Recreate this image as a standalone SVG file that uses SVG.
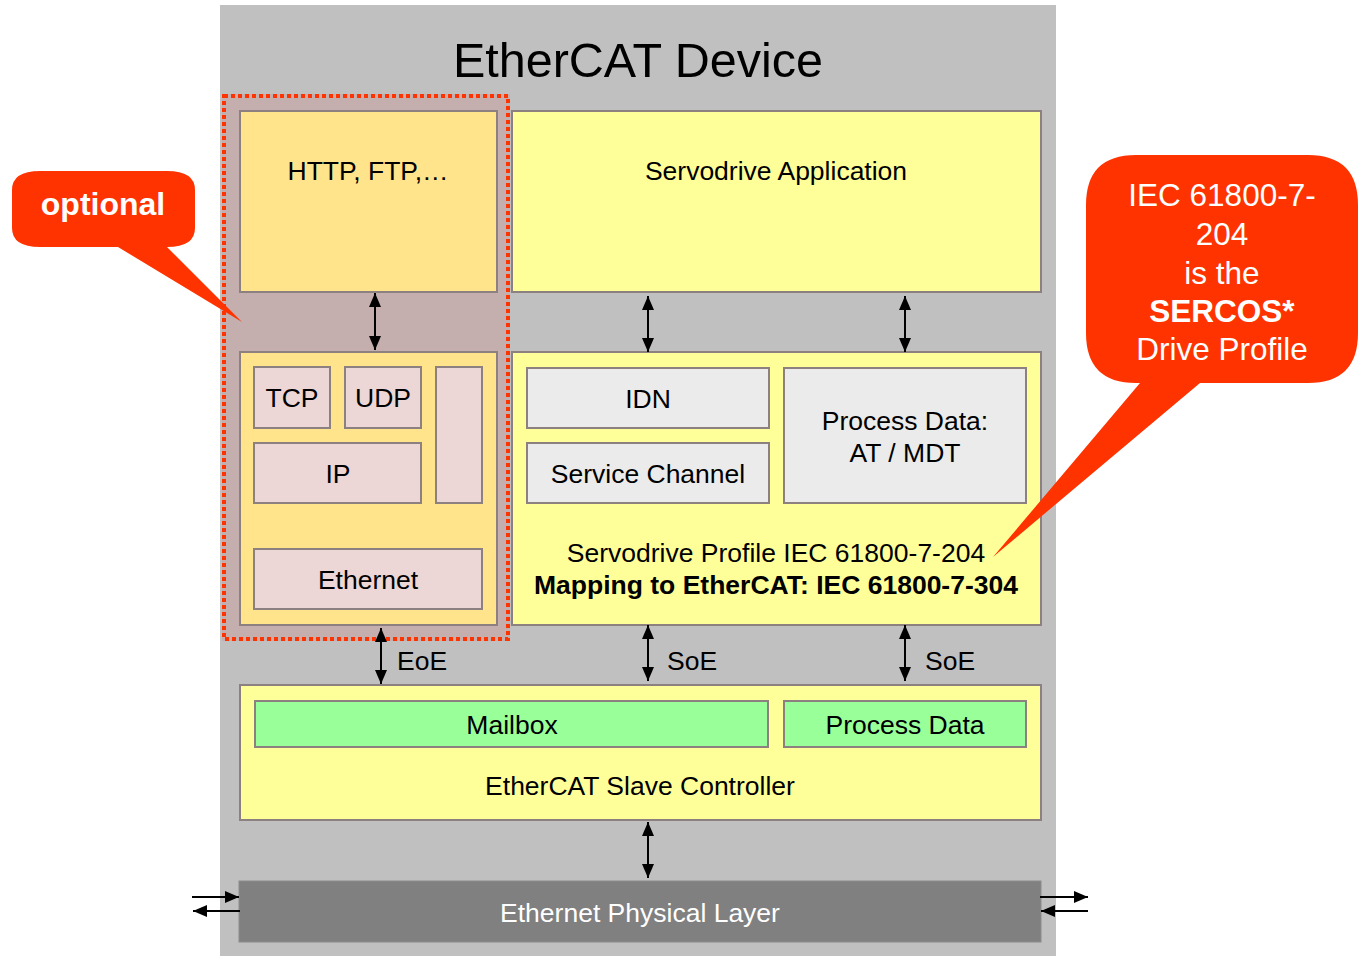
<svg xmlns="http://www.w3.org/2000/svg" width="1358" height="956" viewBox="0 0 1358 956">
<style>
text{font-family:"Liberation Sans",Arial,sans-serif;fill:#000}
.box{stroke:#8c8080;stroke-width:2}
.y{fill:#ffff99}
.o{fill:#ffe48c}
.p{fill:#ecd6d6}
.g{fill:#ebebeb}
.gr{fill:#99ff99}
.t24{font-size:26.5px;text-anchor:middle}
.con line{stroke:#000;stroke-width:2;marker-start:url(#ah);marker-end:url(#ah)}
.one line{stroke:#000;stroke-width:2;marker-end:url(#ah)}
.call{fill:#ff3300}
.wt{fill:#fff;text-anchor:middle}
</style>
<defs>
<marker id="ah" viewBox="0 0 14 12" refX="14" refY="6" markerWidth="14" markerHeight="12" markerUnits="userSpaceOnUse" orient="auto-start-reverse">
<path d="M0,0 L14,6 L0,12 z" fill="#000"/>
</marker>
</defs>
<rect width="1358" height="956" fill="#fff"/>
<g id="device">
<rect x="220" y="5" width="836" height="951" fill="#c0c0c0"/>
<text x="638" y="77" font-size="48.5" text-anchor="middle">EtherCAT Device</text>
</g>
<g id="optional-area">
<rect x="222" y="94" width="288" height="547" fill="#c4aeae"/>
<rect x="224" y="96" width="284" height="543" fill="none" stroke="#ff3300" stroke-width="4" stroke-dasharray="4,3"/>
</g>
<g id="http">
<rect class="box o" x="240" y="111" width="257" height="181"/>
<text x="368" y="180" class="t24">HTTP, FTP,…</text>
</g>
<g id="servodrive-app">
<rect class="box y" x="512" y="111" width="529" height="181"/>
<text x="776" y="180" class="t24">Servodrive Application</text>
</g>
<g id="ip-stack">
<rect class="box o" x="240" y="352" width="257" height="273"/>
</g>
<g id="tcp"><rect class="box p" x="254" y="367" width="76" height="61"/><text x="292" y="407" class="t24">TCP</text></g>
<g id="udp"><rect class="box p" x="345" y="367" width="76" height="61"/><text x="383" y="407" class="t24">UDP</text></g>
<g id="blank"><rect class="box p" x="436" y="367" width="46" height="136"/></g>
<g id="ip"><rect class="box p" x="254" y="443" width="167" height="60"/><text x="338" y="483" class="t24">IP</text></g>
<g id="ethernet"><rect class="box p" x="254" y="549" width="228" height="60"/><text x="368" y="589" class="t24">Ethernet</text></g>
<g id="profile">
<rect class="box y" x="512" y="352" width="529" height="273"/>
<text x="776" y="562" class="t24">Servodrive Profile IEC 61800-7-204</text>
<text x="776" y="594" class="t24" font-weight="bold">Mapping to EtherCAT: IEC 61800-7-304</text>
</g>
<g id="idn"><rect class="box g" x="527" y="368" width="242" height="60"/><text x="648" y="408" class="t24">IDN</text></g>
<g id="service-channel"><rect class="box g" x="527" y="443" width="242" height="60"/><text x="648" y="483" class="t24">Service Channel</text></g>
<g id="process-data-at"><rect class="box g" x="784" y="368" width="242" height="135"/><text x="905" y="430" class="t24">Process Data:</text><text x="905" y="462" class="t24">AT / MDT</text></g>
<g id="esc">
<rect class="box y" x="240" y="685" width="801" height="135"/>
<text x="640" y="795" class="t24">EtherCAT Slave Controller</text>
</g>
<g id="mailbox"><rect class="box gr" x="255" y="701" width="513" height="46"/><text x="512" y="734" class="t24">Mailbox</text></g>
<g id="process-data"><rect class="box gr" x="784" y="701" width="242" height="46"/><text x="905" y="734" class="t24">Process Data</text></g>
<g id="phy">
<rect x="239" y="881" width="802" height="61" fill="#808080" stroke="#8c8c8c" stroke-width="1"/>
<text x="640" y="922" class="t24" style="fill:#fff">Ethernet Physical Layer</text>
</g>
<g id="connectors">
<g class="con">
<line x1="375" y1="293" x2="375" y2="350"/>
<line x1="648" y1="296" x2="648" y2="352"/>
<line x1="905" y1="296" x2="905" y2="352"/>
<line x1="381" y1="628" x2="381" y2="684"/>
<line x1="648" y1="625" x2="648" y2="681"/>
<line x1="905" y1="625" x2="905" y2="681"/>
<line x1="648" y1="822" x2="648" y2="878"/>
</g>
<g class="one">
<line x1="192" y1="897" x2="239" y2="897"/>
<line x1="240" y1="911" x2="193" y2="911"/>
<line x1="1040" y1="897" x2="1088" y2="897"/>
<line x1="1088" y1="911" x2="1041" y2="911"/>
</g>
<text x="397" y="670" font-size="26.5">EoE</text>
<text x="667" y="670" font-size="26.5">SoE</text>
<text x="925" y="670" font-size="26.5">SoE</text>
</g>
<g id="callout-optional">
<path class="call" d="M40,171 H167 Q195,171 195,190 V228 Q195,247 167,247 L242,322 L118,247 H40 Q12,247 12,228 V190 Q12,171 40,171 Z"/>
<text x="103" y="215" font-size="32" font-weight="bold" class="wt">optional</text>
</g>
<g id="callout-sercos">
<path class="call" d="M1136,155 H1308 Q1358,155 1358,205 V333 Q1358,383 1308,383 H1200 L993,557 L1140,383 H1136 Q1086,383 1086,333 V205 Q1086,155 1136,155 Z"/>
<text x="1222" y="206" font-size="31.5" class="wt">IEC 61800-7-</text>
<text x="1222" y="245" font-size="31.5" class="wt">204</text>
<text x="1222" y="284" font-size="31.5" class="wt">is the</text>
<text x="1222" y="322" font-size="31.5" class="wt" font-weight="bold">SERCOS*</text>
<text x="1222" y="360" font-size="31.5" class="wt">Drive Profile</text>
</g>
</svg>
